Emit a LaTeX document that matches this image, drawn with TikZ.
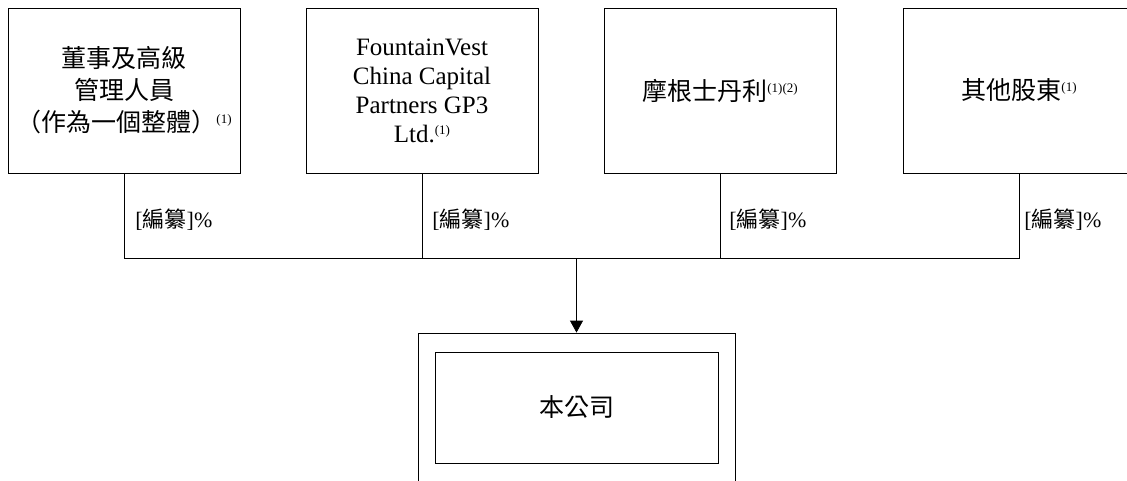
\documentclass[tikz,border=0pt]{standalone}
\usepackage{fontspec}
\setmainfont{Liberation Serif}
\newfontfamily\cjk{Noto Sans CJK TC}
\usetikzlibrary{arrows.meta}
\newcommand{\supn}[1]{\raisebox{8pt}{\fontsize{13}{13}\selectfont #1}}
\begin{document}
\begin{tikzpicture}[x=1pt,y=-1pt,
  line width=0.8pt,
  holder/.style={draw, minimum width=232pt, minimum height=165pt, align=center, inner sep=0pt},
  pct/.style={anchor=west, inner sep=0pt, font=\fontsize{22}{22}\selectfont},
  bigtxt/.style={font=\fontsize{25}{32}\selectfont}]
\useasboundingbox (0,0) rectangle (1127,480);
\clip (0,0) rectangle (1127,480);
\node[holder, bigtxt] (b1) at (124,90.5) {{\cjk 董事及高級}\\{\cjk 管理人員}\\{\cjk （作為一個整體）}\supn{(1)}};
\node[holder, font=\fontsize{25}{29}\selectfont] (b2) at (422,90.5) {FountainVest\\China Capital\\Partners GP3\\Ltd.\supn{(1)}};
\node[holder, bigtxt] (b3) at (720,90.5) {{\cjk 摩根士丹利}\supn{(1)(2)}};
\node[holder, bigtxt] (b4) at (1019,90.5) {{\cjk 其他股東}\supn{(1)}};
\node[draw, minimum width=317pt, minimum height=170pt] (outer) at (576.5,418) {};
\node[draw, minimum width=283pt, minimum height=111pt, bigtxt] (inner) at (576.5,407.5) {\cjk 本公司};
\coordinate (j1) at (124,258);
\coordinate (j2) at (422,258);
\coordinate (j3) at (720,258);
\coordinate (j4) at (1019,258);
\coordinate (jm) at (576.5,258);
\draw (b1.south) -- (j1) -- (j4) -- (b4.south);
\draw (b2.south) -- (j2);
\draw (b3.south) -- (j3);
\draw[-{Triangle[length=12pt,width=13pt]}] (jm) -- (outer.north);
\node[pct] (p1) at (135,220) {[{\cjk 編纂}]\%};
\node[pct] (p2) at (432,220) {[{\cjk 編纂}]\%};
\node[pct] (p3) at (729,220) {[{\cjk 編纂}]\%};
\node[pct] (p4) at (1024,220) {[{\cjk 編纂}]\%};
\end{tikzpicture}
\end{document}
